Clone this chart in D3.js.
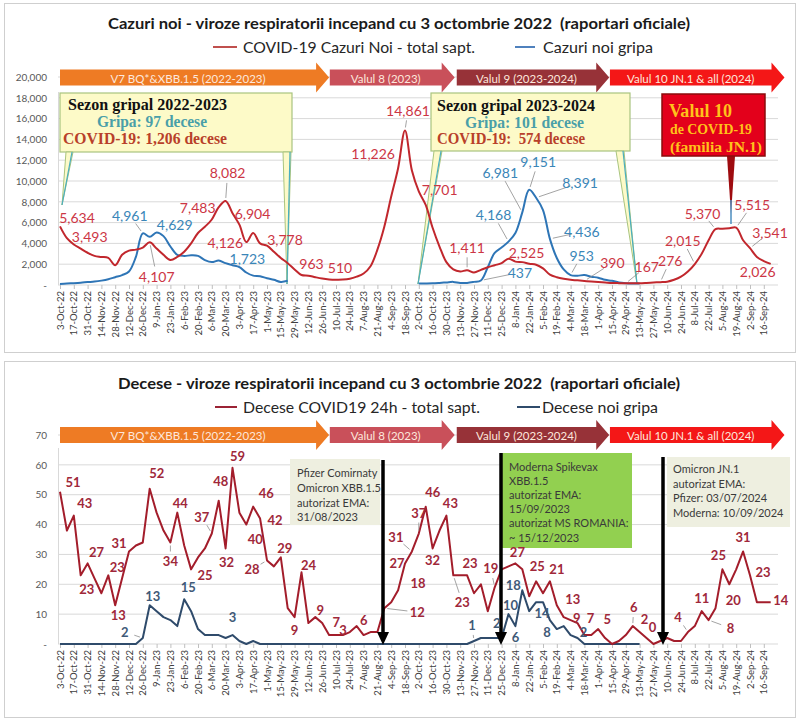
<!DOCTYPE html>
<html>
<head>
<meta charset="utf-8">
<script src="https://cdn.jsdelivr.net/npm/d3@7"></script>
<style>
  body { margin: 0; background: #fff; }
  svg text { font-family: Lato, "Open Sans", sans-serif; white-space: pre; }
</style>
</head>
<body>
<div id="chart"></div>
<script>
// tick labels every two weeks, shared by both charts
const tickLabels = ["3-Oct-22","17-Oct-22","31-Oct-22","14-Nov-22","28-Nov-22","12-Dec-22","26-Dec-22",
  "9-Jan-23","23-Jan-23","6-Feb-23","20-Feb-23","6-Mar-23","20-Mar-23","3-Apr-23","17-Apr-23","1-May-23",
  "15-May-23","29-May-23","12-Jun-23","26-Jun-23","10-Jul-23","24-Jul-23","7-Aug-23","21-Aug-23","4-Sep-23",
  "18-Sep-23","2-Oct-23","16-Oct-23","30-Oct-23","13-Nov-23","27-Nov-23","11-Dec-23","25-Dec-23","8-Jan-24",
  "22-Jan-24","5-Feb-24","19-Feb-24","4-Mar-24","18-Mar-24","1-Apr-24","15-Apr-24","29-Apr-24","13-May-24",
  "27-May-24","10-Jun-24","24-Jun-24","8-Jul-24","22-Jul-24","5-Aug-24","19-Aug-24","2-Sep-24","16-Sep-24"];

// weekly values from the week of 3-Oct-22
const covidCases = [5634, 4500, 3900, 3493, 3100, 2800, 2700, 2600, 1900, 2900,
  3300, 3400, 3600, 4107, 3500, 2900, 2400, 2700, 3200, 4000,
  5000, 5600, 6300, 7483, 8082, 6904, 5800, 4126, 5000, 4000,
  3778, 3200, 2600, 2100, 1500, 963, 900, 750, 620, 540,
  510, 520, 600, 800, 1100, 1800, 3400, 5600, 8500, 11226,
  14861, 11000, 9000, 7701, 5500, 3700, 2200, 1500, 1300, 1411,
  1200, 1450, 1700, 1900, 2100, 2525, 2250, 2200, 2050, 1950,
  1600, 1000, 750, 600, 500, 450, 390, 330, 280, 240,
  200, 180, 167, 160, 167, 200, 240, 276, 320, 500,
  800, 1300, 2015, 3000, 4300, 5370, 5400, 5450, 5515, 4300,
  3541, 2700, 2300, 2026];

// flu cases only during the two flu seasons
const fluSeason1Start = 0;
const fluCases1 = [100, 150, 180, 220, 280, 330, 420, 550, 750, 950, 1300, 2700, 4961, 4629, 5050, 4700,
  3700, 2900, 2800, 2850, 2800, 2400, 2200, 2350, 2100, 1900, 1723, 1200, 900, 850, 650, 500, 300, 400];
const fluSeason2Start = 52;
const fluCases2 = [150, 150, 160, 200, 250, 300, 200, 200, 300, 437, 1700, 3100, 3600, 4168, 5000, 6981,
  9151, 8391, 7200, 4436, 2600, 1500, 953, 900, 950, 800, 700, 500, 400, 250, 180, 150, 150];

const covidDeaths = [51, 38, 43, 23, 27, 22, 17, 23, 13, 22,
  31, 33, 34, 52, 44, 38, 34, 44, 33, 25,
  29, 32, 37, 48, 32, 59, 44, 40, 46, 42,
  28, 26, 29, 12, 9, 24, 7, 9, 7, 3,
  3, 3, 4, 6, 3, 4, 4, 12, 14, 18,
  27, 31, 37, 46, 32, 38, 43, 23, 23, 23,
  17, 20, 11, 19, 25, 26, 27, 25, 16, 21,
  17, 21, 13, 9, 8, 7, 3, 3, 5, 2,
  0, 1, 3, 6, 4, 2, 0, 1, 2, 1,
  1, 4, 6, 11, 8, 12, 25, 20, 25, 31,
  23, 14, 14, 14];

const fluDeaths = [0, 0, 0, 0, 0, 0, 0, 0, 0, 0,
  0, 0, 2, 13, 11, 9, 8, 6, 15, 11,
  5, 3, 3, 3, 2, 3, 1, 0, 1, 0,
  0, 0, 0, 0, 0, 0, 0, 0, 0, 0,
  0, 0, 0, 0, 0, 0, 0, 0, 0, 0,
  0, 0, 0, 0, 0, 0, 0, 0, 0, 0,
  1, 2, 2, 2, 2, 10, 6, 18, 11, 14,
  14, 8, 5, 6, 3, 2, 0, 0, 0, 0,
  0, 0, 0, 0, 0];

// waves (in week index units)
const waveNames = ["V7 BQ*&XBB.1.5 (2022-2023)", "Valul 8 (2023)", "Valul 9 (2023-2024)", "Valul 10 JN.1 & all (2024)"];
const waveStart = [0, 39.1, 57.5, 79.7];
const waveEnd = [39, 57.2, 79.6, 105];
const waveColors = ["#ee7b24", "#c9505a", "#973238", "#f41717"];

// value labels: [week, dx, dy, leader]
const covidCaseLabels = [[0,17,-9],[3,9,-12],[13,7,34,1],[23,-21,0],[24,2,-28,1],[25,20,0],[27,-21,0],
  [30,18,-6,1],[35,10,-11],[40,4,-12],[49,-25,-15],[50,3,-20,1],[53,14,-15],[59,0,-23,1],[65,18,-6],
  [76,28,-18,1],[82,21,-17,1],[87,10,-22,1],[92,-12,-24,1],[95,-13,-16,1],[98,16,-23,1],[100,20,-16,1],[103,-13,8]];
const fluCaseLabels = [[12,-13,-18,1],[13,25,-12],[26,8,-9],[61,39,-8,1],[65,-15,-27,1],[67,-22,-40,1],
  [68,9,-28,1],[69,44,-15,1],[71,32,-7,1],[74,11,-20,1]];
const covidDeathLabels = [[0,13,-10],[2,11,-13],[3,6,14],[4,9,-11],[7,9,-8],[8,3,10],[10,-10,-8],[13,7,-16],
  [17,3,-10],[16,0,19,1],[22,-10,-17,1],[19,14,6],[23,2,-20],[24,1,14],[25,5,-12],[27,9,14],[28,13,-14],
  [29,15,1],[30,-15,9,1],[32,4,-9],[34,0,13],[35,7,-7],[37,5,-7],[38,14,-1],[40,7,-5],[43,7,-6],
  [47,33,4,1],[49,20,-7],[50,-8,0],[51,-16,-14,1],[52,0,-21,1],[53,7,-15],[54,0,12],[56,4,-13],
  [57,9,27,1],[59,3,-12],[63,-4,-19,1],[66,2,-11],[67,15,-3],[71,7,-12],[72,16,-6],[73,13,1],
  [75,13,-5],[78,9,-10],[83,1,-19,1],[85,-2,-19],[86,-1,-17],[91,-10,-15,1],[93,0,-13],[94,22,8,1],
  [96,-4,-14],[97,4,16],[99,0,-14],[100,13,-3],[103,10,-2]];
const fluDeathLabels = [[12,-18,-6,1],[13,3,-9],[18,4,-12],[25,0,-18],[60,-2,-16,1],[63,2,-15],
  [65,2,-9],[66,0,11],[67,-9,-5],[69,6,11],[71,-3,12],[75,6,-6]];

const svg = d3.select("#chart").append("svg").attr("width", 801).attr("height", 722);

const x = d3.scaleLinear().domain([0, covidCases.length - 1]).range([60, 770.7]);

function seasonSeries(start, vals) {
  const out = covidCases.map(() => null);
  vals.forEach((v, k) => { out[start + k] = v; });
  return out;
}
const fluCases = seasonSeries(fluSeason1Start, fluCases1);
seasonSeries(fluSeason2Start, fluCases2).forEach((v, i) => { if (v != null) fluCases[i] = v; });

function drawPanel(o) {
  const g = svg.append("g");
  g.append("rect").attr("x", 4.5).attr("y", o.box[0]).attr("width", 791).attr("height", o.box[1])
    .attr("fill", "#fff").attr("stroke", "#cfcfcf");

  const y = d3.scaleLinear().domain([0, o.yMax]).range([o.y0, o.y1]);

  // gridlines
  g.append("g").selectAll("line").data(o.yTicks).join("line")
    .attr("x1", 58).attr("x2", 778)
    .attr("y1", d => y(d)).attr("y2", d => y(d))
    .attr("stroke", "#d9d9d9").attr("stroke-width", 1);
  g.append("line").attr("x1", 58.5).attr("x2", 58.5).attr("y1", o.y0).attr("y2", o.vTop)
    .attr("stroke", "#d9d9d9");

  // y axis
  g.append("g").attr("transform", "translate(47,0)")
    .call(d3.axisLeft(y).tickValues(o.yTicks).tickSize(0).tickPadding(0).tickFormat(o.fmt))
    .call(a => a.select(".domain").remove())
    .selectAll("text").attr("font-size", 10).attr("fill", "#595959");

  // x axis
  const xa = g.append("g").attr("transform", "translate(0," + o.y0 + ")")
    .call(d3.axisBottom(x).tickValues(d3.range(0, covidCases.length, 2)).tickSize(4)
      .tickFormat(d => tickLabels[d / 2]));
  xa.select(".domain").remove();
  xa.selectAll("line").attr("stroke", "#bfbfbf");
  xa.selectAll("text")
    .attr("transform", "rotate(-90)")
    .attr("text-anchor", "end")
    .attr("x", -6).attr("y", 0).attr("dy", "0.33em")
    .attr("font-size", 9.5).attr("fill", "#404040");

  // title + legend
  g.append("text").attr("x", 399).attr("y", o.titleY).attr("text-anchor", "middle")
    .attr("dominant-baseline", "central").attr("font-weight", "bold").attr("font-size", 15.5)
    .attr("fill", "#1a1a1a").attr("textLength", o.titleLen).attr("lengthAdjust", "spacingAndGlyphs")
    .text(o.title);
  o.legend.forEach(l => {
    g.append("line").attr("x1", l.x1).attr("x2", l.x2).attr("y1", o.legendY).attr("y2", o.legendY)
      .attr("stroke", l.color).attr("stroke-width", 2);
    g.append("text").attr("x", l.tx).attr("y", o.legendY).attr("dominant-baseline", "central")
      .attr("font-size", 15).attr("fill", "#262626")
      .attr("textLength", l.len).attr("lengthAdjust", "spacingAndGlyphs").text(l.text);
  });

  // wave arrows
  const bh = 16, hh = 30, hl = 13, cy = o.waveY;
  waveNames.forEach((name, k) => {
    const x0 = x(waveStart[k]), x1 = x(waveEnd[k]);
    g.append("path")
      .attr("d", `M${x0},${cy - bh / 2}L${x1 - hl},${cy - bh / 2}L${x1 - hl},${cy - hh / 2}L${x1},${cy}` +
        `L${x1 - hl},${cy + hh / 2}L${x1 - hl},${cy + bh / 2}L${x0},${cy + bh / 2}Z`)
      .attr("fill", waveColors[k]);
    g.append("text").attr("x", (x0 + x1 - hl) / 2).attr("y", cy + 0.5)
      .attr("text-anchor", "middle").attr("dominant-baseline", "central")
      .attr("font-size", 11.5).attr("fill", "#fde7dc").text(name);
  });
  return { g, y };
}

function drawLine(g, y, data, color, width, curve) {
  g.append("path").datum(data)
    .attr("fill", "none").attr("stroke", color).attr("stroke-width", width)
    .attr("stroke-linejoin", "round")
    .attr("d", d3.line().defined(d => d != null).x((d, i) => x(i)).y(d => y(d)).curve(curve));
}

function drawLabels(g, y, data, table, color, size, weight, fmt) {
  table.forEach(([i, dx, dy, leader]) => {
    const px = x(i), py = y(data[i]);
    if (leader) {
      const len = Math.hypot(dx, dy);
      if (len > 14) {
        const a = 3 / len, b = (len - 10) / len;
        g.append("line")
          .attr("x1", px + dx * a).attr("y1", py + dy * a)
          .attr("x2", px + dx * b).attr("y2", py + dy * b)
          .attr("stroke", "#8c8c8c").attr("stroke-width", 0.8);
      }
    }
    g.append("text").attr("x", px + dx).attr("y", py + dy)
      .attr("text-anchor", "middle").attr("dominant-baseline", "central")
      .attr("font-size", size).attr("font-weight", weight).attr("fill", color)
      .text(fmt(data[i]));
  });
}

// ---------- top chart: cases ----------
const casesChart = drawPanel({
  box: [3.5, 349], y0: 285, y1: 77, yMax: 20000, vTop: 92,
  yTicks: d3.range(0, 20001, 2000),
  fmt: d => d === 0 ? "-" : d3.format(",")(d),
  title: "Cazuri noi - viroze respiratorii incepand cu 3 octombrie 2022  (raportari oficiale)",
  titleY: 23, titleLen: 582, legendY: 47, waveY: 77.5,
  legend: [
    { x1: 213, x2: 237, tx: 243, color: "#c0504d", text: "COVID-19 Cazuri Noi - total sapt.", len: 232 },
    { x1: 515, x2: 535, tx: 543, color: "#4f81bd", text: "Cazuri noi gripa", len: 110 }
  ]
});

// flu-season callouts
const tg = casesChart.g;
const yellow = "#fdfac8", green = "#a9c47f", teal = "#4aaec0";
[[60, 93, 232, 59], [431, 93, 199, 58]].forEach(r => {
  tg.append("rect").attr("x", r[0]).attr("y", r[1]).attr("width", r[2]).attr("height", r[3])
    .attr("fill", yellow).attr("stroke", green).attr("stroke-width", 1.2);
});
[[[66, 152], [73, 152], [62, 205]], [[283, 152], [291, 152], [287, 284]],
 [[434, 151], [442, 151], [418, 284]], [[616, 151], [624, 151], [637, 284]]].forEach(p => {
  tg.append("path").attr("d", "M" + p.join("L") + "Z")
    .attr("fill", yellow).attr("stroke", green).attr("stroke-width", 1);
  tg.append("line").attr("x1", p[1][0] - 1).attr("y1", p[1][1]).attr("x2", p[2][0]).attr("y2", p[2][1])
    .attr("stroke", teal).attr("stroke-width", 1.2);
});
function serif(g, t, xx, yy, size, color, len) {
  const e = g.append("text").attr("x", xx).attr("y", yy).attr("dominant-baseline", "central")
    .style("font-family", "'Liberation Serif', 'DejaVu Serif', serif").attr("font-weight", "bold")
    .attr("font-size", size).attr("fill", color).text(t);
  if (len) e.attr("textLength", len).attr("lengthAdjust", "spacingAndGlyphs");
  return e;
}
serif(tg, "Sezon gripal 2022-2023", 68, 104, 16, "#111", 159);
serif(tg, "Gripa: 97 decese", 97, 121, 16, "#4a9fa8", 110);
serif(tg, "COVID-19: 1,206 decese", 63, 138, 16, "#b8402a", 164);
serif(tg, "Sezon gripal 2023-2024", 437, 105, 16, "#111", 158);
serif(tg, "Gripa: 101 decese", 465, 122, 16, "#4a9fa8", 119);
serif(tg, "COVID-19:  574 decese", 437, 138, 16, "#b8402a", 148);

// Valul 10 box
tg.append("path").attr("d", "M727,156L735,156L731,214Z").attr("fill", "#9e0b0f");
tg.append("line").attr("x1", 731).attr("x2", 731).attr("y1", 200).attr("y2", 224)
  .attr("stroke", "#4d8fc0").attr("stroke-width", 1.5);
tg.append("rect").attr("x", 662).attr("y", 94).attr("width", 103).attr("height", 62)
  .attr("fill", "#e3001b").attr("stroke", "#8a0c0c").attr("stroke-width", 1.5);
serif(tg, "Valul 10", 669, 111, 18, "#ffc21a", 63);
serif(tg, "de COVID-19", 670, 129, 15, "#ffc21a", 82);
serif(tg, "(familia JN.1)", 670, 147, 15, "#ffc21a", 92);

drawLine(tg, casesChart.y, fluCases, "#2e75b6", 2, d3.curveCatmullRom);
drawLine(tg, casesChart.y, covidCases, "#c1272d", 2, d3.curveCatmullRom);
drawLabels(tg, casesChart.y, covidCases, covidCaseLabels, "#cc3645", 14, "normal", d3.format(","));
drawLabels(tg, casesChart.y, fluCases, fluCaseLabels, "#3a86b8", 14, "normal", d3.format(","));

// ---------- bottom chart: deaths ----------
const deathsChart = drawPanel({
  box: [361.5, 356], y0: 644, y1: 435, yMax: 70, vTop: 448,
  yTicks: d3.range(0, 71, 10),
  fmt: d => d === 0 ? "-" : d,
  title: "Decese - viroze respiratorii incepand cu 3 octombrie 2022  (raportari oficiale)",
  titleY: 383, titleLen: 562, legendY: 407, waveY: 435,
  legend: [
    { x1: 215, x2: 237, tx: 243, color: "#9b2335", text: "Decese COVID19 24h - total sapt.", len: 237 },
    { x1: 517, x2: 540, tx: 542, color: "#2f4b6b", text: "Decese noi gripa", len: 116 }
  ]
});
const bg = deathsChart.g;

const notes = [
  { box: [290, 459, 90, 66], fill: "#eeefe0", arrowX: 383, top: 460, tx: 297,
    lines: ["Pfizer Comirnaty", "Omicron XBB.1.5", "autorizat EMA:", "31/08/2023"], ly: [472, 487, 502, 516] },
  { box: [502, 453, 130, 95], fill: "#92d050", arrowX: 501, top: 453, tx: 509,
    lines: ["Moderna Spikevax", "XBB.1.5", "autorizat EMA:", "15/09/2023", "autorizat MS ROMANIA:", "~ 15/12/2023"],
    ly: [466, 480, 494, 508, 522, 537] },
  { box: [667, 457, 123, 70], fill: "#eeefe0", arrowX: 663, top: 457, tx: 673,
    lines: ["Omicron JN.1", "autorizat EMA:", "Pfizer: 03/07/2024", "Moderna: 10/09/2024"], ly: [468, 483, 497, 512] }
];
notes.forEach(n => {
  bg.append("rect").attr("x", n.box[0]).attr("y", n.box[1]).attr("width", n.box[2]).attr("height", n.box[3])
    .attr("fill", n.fill);
  n.lines.forEach((t, k) => {
    bg.append("text").attr("x", n.tx).attr("y", n.ly[k]).attr("dominant-baseline", "central")
      .attr("font-size", 11).attr("fill", "#3a3a3a").text(t);
  });
});

drawLine(bg, deathsChart.y, fluDeaths, "#2f4b6b", 2, d3.curveLinear);
drawLine(bg, deathsChart.y, covidDeaths, "#a31d2b", 2, d3.curveLinear);

notes.forEach(n => {
  bg.append("line").attr("x1", n.arrowX).attr("x2", n.arrowX).attr("y1", n.top).attr("y2", 634)
    .attr("stroke", "#000").attr("stroke-width", 3.5);
  bg.append("path").attr("d", `M${n.arrowX - 6},632L${n.arrowX + 6},632L${n.arrowX},645Z`).attr("fill", "#000");
});

drawLabels(bg, deathsChart.y, covidDeaths, covidDeathLabels, "#a0283a", 13, "bold", d => d);
drawLabels(bg, deathsChart.y, fluDeaths, fluDeathLabels, "#3f5a78", 13, "bold", d => d);
</script>
</body>
</html>
